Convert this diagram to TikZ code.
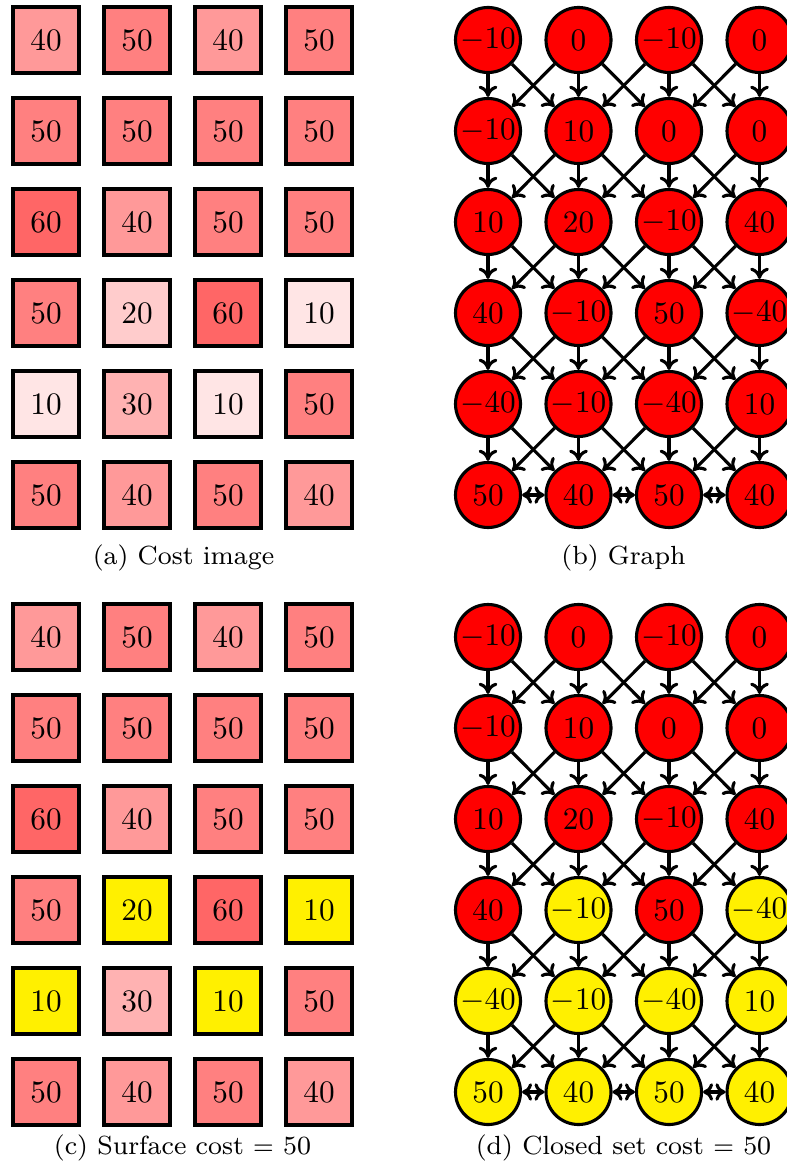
\documentclass[tikz,border=0pt]{standalone}
\usetikzlibrary{arrows.meta}
\definecolor{myyellow}{RGB}{255,240,0}
\begin{document}
\begin{tikzpicture}[x=0.32pt,y=-0.32pt,
  cell/.style={draw, line width=1pt, minimum size=21.1pt, inner sep=0pt, font=\fontsize{10}{12}\selectfont},
  gnode/.style={circle, draw, line width=1pt, minimum size=20.8pt, inner sep=0pt, font=\fontsize{10}{12}\selectfont},
  garrow/.style={line width=1pt, -{To[length=3.6pt,width=6pt]}},
  gdouble/.style={line width=1pt, {To[length=3.2pt,width=5.6pt]}-{To[length=3.2pt,width=5.6pt]}},
  captext/.style={font=\fontsize{8.4}{10}\selectfont}]
\useasboundingbox (0,0) rectangle (786,1175);
% (a) cost image
\foreach \v/\f [count=\i from 0] in {40/red!40,50/red!50,40/red!40,50/red!50,
  50/red!50,50/red!50,50/red!50,50/red!50,
  60/red!60,40/red!40,50/red!50,50/red!50,
  50/red!50,20/red!20,60/red!60,10/red!10,
  10/red!10,30/red!30,10/red!10,50/red!50,
  50/red!50,40/red!40,50/red!50,40/red!40}{
  \pgfmathtruncatemacro\r{div(\i,4)}
  \pgfmathtruncatemacro\c{mod(\i,4)}
  \node[cell, fill=\f] (a-\r-\c) at (46+91*\c, 40+91*\r) {\v};
}
% (c) surface cost
\foreach \v/\f [count=\i from 0] in {40/red!40,50/red!50,40/red!40,50/red!50,
  50/red!50,50/red!50,50/red!50,50/red!50,
  60/red!60,40/red!40,50/red!50,50/red!50,
  50/red!50,20/myyellow,60/red!60,10/myyellow,
  10/myyellow,30/red!30,10/myyellow,50/red!50,
  50/red!50,40/red!40,50/red!50,40/red!40}{
  \pgfmathtruncatemacro\r{div(\i,4)}
  \pgfmathtruncatemacro\c{mod(\i,4)}
  \node[cell, fill=\f] (c-\r-\c) at (46+91*\c, 637+91*\r) {\v};
}
% (b) graph
\foreach \v/\f [count=\i from 0] in {-10/red,0/red,-10/red,0/red,
  -10/red,10/red,0/red,0/red,
  10/red,20/red,-10/red,40/red,
  40/red,-10/red,50/red,-40/red,
  -40/red,-10/red,-40/red,10/red,
  50/red,40/red,50/red,40/red}{
  \pgfmathtruncatemacro\r{div(\i,4)}
  \pgfmathtruncatemacro\c{mod(\i,4)}
  \node[gnode, fill=\f] (b-\r-\c) at (488+90.5*\c, 40+91*\r) {$\v$};
}
% (d) closed set
\foreach \v/\f [count=\i from 0] in {-10/red,0/red,-10/red,0/red,
  -10/red,10/red,0/red,0/red,
  10/red,20/red,-10/red,40/red,
  40/red,-10/myyellow,50/red,-40/myyellow,
  -40/myyellow,-10/myyellow,-40/myyellow,10/myyellow,
  50/myyellow,40/myyellow,50/myyellow,40/myyellow}{
  \pgfmathtruncatemacro\r{div(\i,4)}
  \pgfmathtruncatemacro\c{mod(\i,4)}
  \node[gnode, fill=\f] (d-\r-\c) at (488+90.5*\c, 637+91*\r) {$\v$};
}
% edges
\foreach \g in {b,d}{
  \foreach \r in {0,...,4}{
    \foreach \c in {0,...,3}{
      \pgfmathtruncatemacro\rn{\r+1}
      \pgfmathtruncatemacro\cl{\c-1}
      \pgfmathtruncatemacro\cr{\c+1}
      \draw[garrow] (\g-\r-\c) -- (\g-\rn-\c);
      \ifnum\c>0 \draw[garrow] (\g-\r-\c) -- (\g-\rn-\cl); \fi
      \ifnum\c<3 \draw[garrow] (\g-\r-\c) -- (\g-\rn-\cr); \fi
    }
  }
  \draw[gdouble] (\g-5-0) -- (\g-5-1);
  \draw[gdouble] (\g-5-1) -- (\g-5-2);
  \draw[gdouble] (\g-5-2) -- (\g-5-3);
}
% captions
\node[captext] (capa) at (183.5,558) {(a) Cost image};
\node[captext] (capb) at (623.5,558) {(b) Graph};
\node[captext] (capc) at (182.5,1148) {(c) Surface cost $=$ 50};
\node[captext] (capd) at (623.5,1148) {(d) Closed set cost $=$ 50};
\end{tikzpicture}
\end{document}
